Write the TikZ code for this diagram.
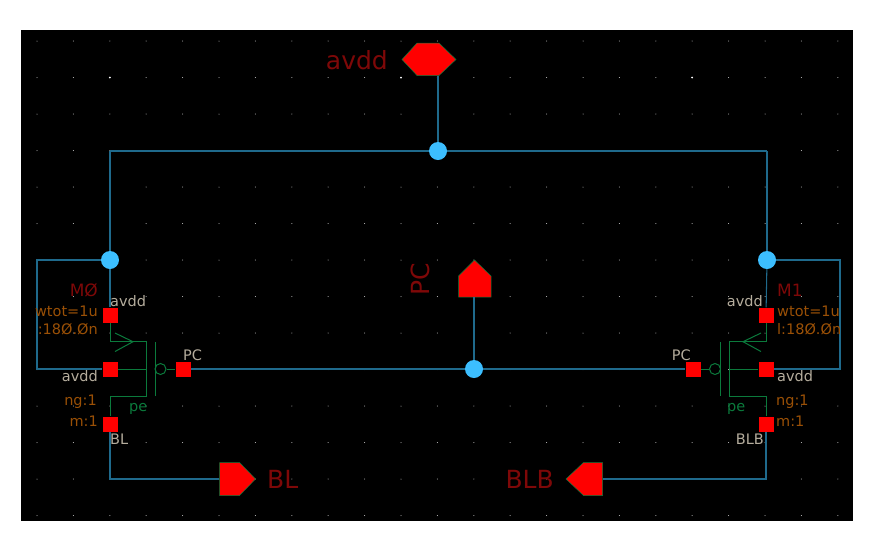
\documentclass[tikz,border=0pt]{standalone}
\usepackage{fontspec}
\setmainfont{DejaVu Sans}
\usetikzlibrary{positioning}
\usetikzlibrary{calc}
\definecolor{wirecol}{HTML}{1F6A8C}
\definecolor{dotcol}{HTML}{3CBEFF}
\definecolor{devcol}{HTML}{0B7A3C}
\definecolor{pincol}{HTML}{FF0000}
\definecolor{namecol}{HTML}{7E0808}
\definecolor{paramcol}{HTML}{9A5006}
\definecolor{termcol}{HTML}{B5AD9D}
\tikzset{
    wire/.style={draw=wirecol, line width=1.05pt},
    device/.style={draw=devcol, line width=1pt},
    junction/.style={circle, fill=dotcol, minimum size=18pt, inner sep=0pt},
    pinbox/.style={rectangle, fill=pincol, minimum size=15pt, inner sep=0pt},
    bigpin/.style={fill=pincol, draw=devcol, line width=0.5pt},
    bubble/.style={circle, draw=devcol, line width=1pt, minimum size=11pt, inner sep=0pt},
    biglabel/.style={text=namecol, inner sep=0pt, font=\fontsize{25}{25}\selectfont},
    instlabel/.style={text=namecol, inner sep=0pt, font=\fontsize{17}{17}\selectfont},
    paramlabel/.style={text=paramcol, inner sep=0pt, font=\fontsize{14.5}{14.5}\selectfont},
    termlabel/.style={text=termcol, inner sep=0pt, font=\fontsize{14.5}{14.5}\selectfont},
    bulklabel/.style={text=devcol, inner sep=0pt, font=\fontsize{14.5}{14.5}\selectfont}
}
\begin{document}
\begin{tikzpicture}[x=1pt, y=-1pt]
    \useasboundingbox (0,0) rectangle (873,550);
    \fill[black] (21,30) rectangle (853,521);

    % grid
    \foreach \i in {0,...,22}
        \foreach \j in {0,...,13}
            \fill[gray!40] ({37+36.4*\i},{41+36.5*\j}) circle (0.5);
    \foreach \i in {2,10,18}
        \fill[white] ({37+36.4*\i},77.5) circle (1);

    % junctions and pins
    \node[junction] at (438,151) (TopDot)   {};
    \node[junction] at (110,260) (LeftDot)  {};
    \node[junction] at (767,260) (RightDot) {};
    \node[junction] at (474,369) (GateDot)  {};

    \node[pinbox] at (110,315) (M0S) {};
    \node[pinbox] at (110,369) (M0B) {};
    \node[pinbox] at (110,424) (M0D) {};
    \node[pinbox] at (183,369) (M0G) {};
    \node[pinbox] at (766,315) (M1S) {};
    \node[pinbox] at (766,369) (M1B) {};
    \node[pinbox] at (766,424) (M1D) {};
    \node[pinbox] at (693,369) (M1G) {};

    \coordinate (AvddPin) at (438,76);
    \coordinate (PCPin)   at (474,297);
    \coordinate (BLPin)   at (219,479);
    \coordinate (BLBPin)  at (603,479);
    \coordinate (LeftTop)  at (110,151);
    \coordinate (RightTop) at (767,151);
    \coordinate (LeftOut)  at (37,260);
    \coordinate (RightOut) at (840,260);

    % io pins
    \filldraw[bigpin] (402,59.5) -- (417,43) -- (439,43) -- (456,59.5) -- (439,75.5) -- (417,75.5) -- cycle;
    \filldraw[bigpin] (474.5,260) -- (491,276) -- (491,297) -- (458.5,297) -- (458.5,276) -- cycle;
    \filldraw[bigpin] (219.5,462.5) -- (239.5,462.5) -- (255.5,479) -- (239.5,495.5) -- (219.5,495.5) -- cycle;
    \filldraw[bigpin] (602.5,462.5) -- (583.5,462.5) -- (566,479) -- (583.5,495.5) -- (602.5,495.5) -- cycle;

    % nets
    \draw[wire] (AvddPin) -- (TopDot);
    \draw[wire] (LeftTop) -- (TopDot);
    \draw[wire] (TopDot) -- (RightTop);
    \draw[wire] (LeftTop) -- (LeftDot);
    \draw[wire] (RightTop) -- (RightDot);
    \draw[wire] (LeftDot) -- (M0S);
    \draw[wire] (RightDot) -- (M1S);
    \draw[wire] (LeftDot) -- (LeftOut) |- (M0B);
    \draw[wire] (RightDot) -- (RightOut) |- (M1B);
    \draw[wire] (M0G) -- (GateDot);
    \draw[wire] (GateDot) -- (M1G);
    \draw[wire] (PCPin) -- (GateDot);
    \draw[wire] (M0D) |- (BLPin);
    \draw[wire] (M1D) |- (BLBPin);

    % M0
    \node[bubble] at (160.5,369) (M0Bub) {};
    \draw[device] (M0S) |- (146,341.7) -- (146,396) -| (M0D);
    \draw[device] (M0B) -- (146,369);
    \draw[device] (115,333) -- (133,341.7) -- (115,351.5);
    \draw[device] (155,342) -- (155,396);
    \draw[device] (M0Bub) -- (M0G);

    % M1
    \node[bubble] at (715,369) (M1Bub) {};
    \draw[device] (M1S) |- (729,341.7) -- (729,396) -| (M1D);
    \draw[device] (M1B) -- (729,369);
    \draw[device] (761,333) -- (743,341.7) -- (761,351.5);
    \draw[device] (720.5,342) -- (720.5,396);
    \draw[device] (M1Bub) -- (M1G);

    % labels
    \node[biglabel, anchor=east] at (388,60) (AvddName) {avdd};
    \node[biglabel, rotate=90]   at (420,279) (PCName)  {PC};
    \node[biglabel, anchor=west] at (267,479) (BLName)  {BL};
    \node[biglabel, anchor=east] at (554,479) (BLBName) {BLB};

    \node[instlabel, anchor=east]  at (98,290)  (M0Name)   {MØ};
    \node[termlabel, anchor=west]  at (110,301) (M0Source) {avdd};
    \node[paramlabel, anchor=east] at (98,311)  (M0Wtot)   {wtot=1u};
    \node[paramlabel, anchor=east] at (98,329)  (M0Len)    {:18Ø.Øn};
    \node[termlabel, anchor=east]  at (98,376)  (M0Bulk)   {avdd};
    \node[paramlabel, anchor=east] at (97,402)  (M0Ng)     {ng:1};
    \node[paramlabel, anchor=east] at (98,421)  (M0M)      {m:1};
    \node[bulklabel, anchor=west]  at (129,409) (M0Type)   {pe};
    \node[termlabel, anchor=west]  at (110,439) (M0Drain)  {BL};
    \node[termlabel, anchor=west]  at (183,355) (M0Gate)   {PC};

    \node[instlabel, anchor=west]  at (777,290) (M1Name)   {M1};
    \node[termlabel, anchor=east]  at (763,301) (M1Source) {avdd};
    \node[paramlabel, anchor=west] at (777,311) (M1Wtot)   {wtot=1u};
    \node[paramlabel, anchor=west] at (777,329) (M1Len)    {l:18Ø.Øn};
    \node[termlabel, anchor=west]  at (777,376) (M1Bulk)   {avdd};
    \node[paramlabel, anchor=west] at (776,402) (M1Ng)     {ng:1};
    \node[paramlabel, anchor=west] at (776,421) (M1M)      {m:1};
    \node[bulklabel, anchor=west]  at (727,409) (M1Type)   {pe};
    \node[termlabel, anchor=east]  at (764,439) (M1Drain)  {BLB};
    \node[termlabel, anchor=east]  at (691,355) (M1Gate)   {PC};
\end{tikzpicture}
\end{document}
